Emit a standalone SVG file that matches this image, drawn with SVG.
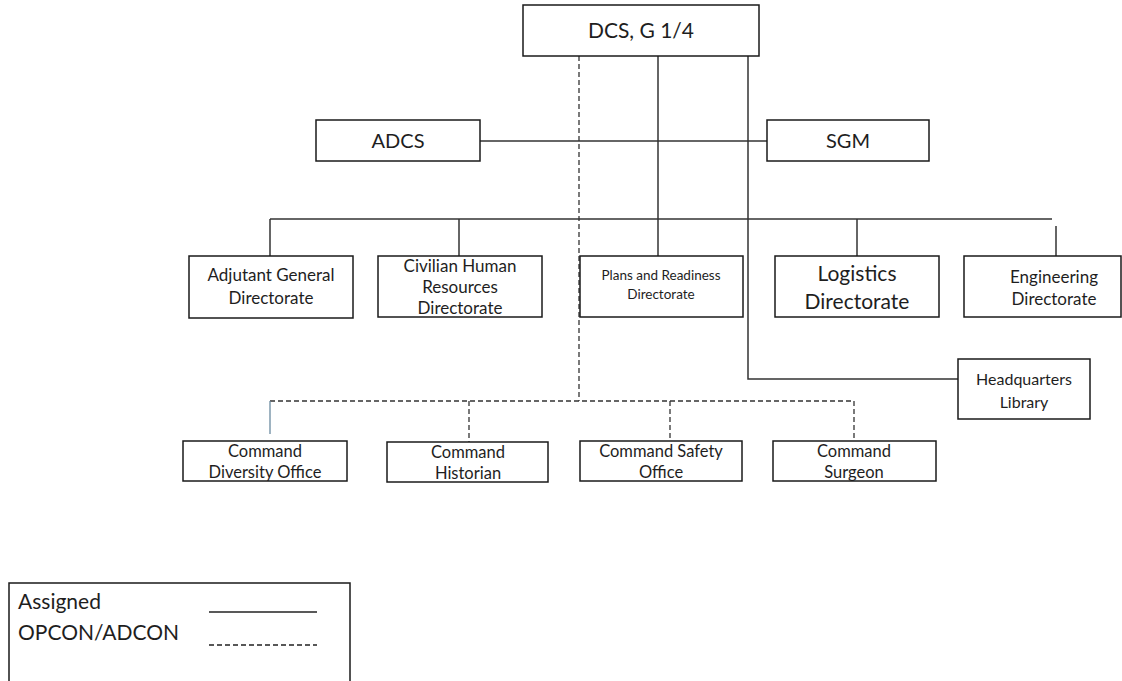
<svg xmlns="http://www.w3.org/2000/svg" width="1122" height="681" viewBox="0 0 1122 681">
<style>
.box{fill:#fff;stroke:#1a1a1a;stroke-width:1.5}
.t{font-family:Lato,"Open Sans","Liberation Sans",sans-serif;fill:#1e1e1e;text-anchor:middle}
.s{fill:none;stroke:#333;stroke-width:1.5}
.d{fill:none;stroke:#333;stroke-width:1.3;stroke-dasharray:5,3}
</style>
<rect width="1122" height="681" fill="#fff"/>
<g id="connectors">
<line class="d" x1="579" y1="56" x2="579" y2="401"/>
<line class="s" x1="658" y1="56" x2="658" y2="256"/>
<polyline class="s" points="748,56 748,379 958,379"/>
<line class="s" x1="480" y1="141" x2="767" y2="141"/>
<line class="s" x1="270" y1="219" x2="1052" y2="219"/>
<line class="s" x1="270" y1="219" x2="270" y2="256"/>
<line class="s" x1="459" y1="219" x2="459" y2="256"/>
<line class="s" x1="857" y1="219" x2="857" y2="256"/>
<line class="s" x1="1056" y1="226" x2="1056" y2="256"/>
<line class="d" x1="270" y1="401" x2="854" y2="401"/>
<line x1="270" y1="401" x2="270" y2="434" stroke="#6a8aa0" stroke-width="1.3"/>
<line class="d" x1="469" y1="401" x2="469" y2="442"/>
<line class="d" x1="670" y1="401" x2="670" y2="441"/>
<line class="d" x1="854" y1="401" x2="854" y2="441"/>
</g>
<g id="dcs"><rect class="box" x="523" y="5" width="236" height="51"/><text class="t" x="641" y="38" font-size="21">DCS, G 1/4</text></g>
<g id="adcs"><rect class="box" x="316" y="120" width="164" height="41"/><text class="t" x="398" y="148" font-size="20">ADCS</text></g>
<g id="sgm"><rect class="box" x="767" y="120" width="162" height="41"/><text class="t" x="848" y="148" font-size="20">SGM</text></g>
<g id="adjutant"><rect class="box" x="189" y="256" width="164" height="62"/><text class="t" x="271" y="281" font-size="17">Adjutant General</text><text class="t" x="271" y="304" font-size="17">Directorate</text></g>
<g id="chr"><rect class="box" x="378" y="256" width="164" height="61"/><text class="t" x="460" y="272" font-size="17">Civilian Human</text><text class="t" x="460" y="293" font-size="17">Resources</text><text class="t" x="460" y="314" font-size="17">Directorate</text></g>
<g id="plans"><rect class="box" x="580" y="256" width="163" height="61"/><text class="t" x="661" y="280" font-size="13.5">Plans and Readiness</text><text class="t" x="661" y="299" font-size="13.5">Directorate</text></g>
<g id="logistics"><rect class="box" x="775" y="256" width="164" height="61"/><text class="t" x="857" y="281" font-size="21">Logistics</text><text class="t" x="857" y="309" font-size="21">Directorate</text></g>
<g id="engineering"><rect class="box" x="964" y="256" width="157" height="61"/><text class="t" x="1054" y="283" font-size="17">Engineering</text><text class="t" x="1054" y="305" font-size="17">Directorate</text></g>
<g id="library"><rect class="box" x="958" y="359" width="132" height="60"/><text class="t" x="1024" y="385" font-size="16">Headquarters</text><text class="t" x="1024" y="408" font-size="16">Library</text></g>
<g id="diversity"><rect class="box" x="183" y="441" width="164" height="40"/><text class="t" x="265" y="457" font-size="16.5">Command</text><text class="t" x="265" y="478" font-size="16.5">Diversity Office</text></g>
<g id="historian"><rect class="box" x="387" y="442" width="161" height="40"/><text class="t" x="468" y="458" font-size="16.5">Command</text><text class="t" x="468" y="479" font-size="16.5">Historian</text></g>
<g id="safety"><rect class="box" x="580" y="441" width="162" height="40"/><text class="t" x="661" y="457" font-size="16.5">Command Safety</text><text class="t" x="661" y="478" font-size="16.5">Office</text></g>
<g id="surgeon"><rect class="box" x="773" y="441" width="163" height="40"/><text class="t" x="854" y="457" font-size="16.5">Command</text><text class="t" x="854" y="478" font-size="16.5">Surgeon</text></g>
<g id="legend">
<rect class="box" x="9" y="583" width="341" height="110"/>
<text x="18" y="609" font-family="Lato,'Open Sans','Liberation Sans',sans-serif" font-size="21" fill="#1e1e1e">Assigned</text>
<text x="18" y="640" font-family="Lato,'Open Sans','Liberation Sans',sans-serif" font-size="21" fill="#1e1e1e">OPCON/ADCON</text>
<line x1="209" y1="612" x2="317" y2="612" stroke="#222" stroke-width="1.3"/>
<line x1="209" y1="645" x2="317" y2="645" stroke="#222" stroke-width="1.3" stroke-dasharray="5,3"/>
</g>
</svg>
